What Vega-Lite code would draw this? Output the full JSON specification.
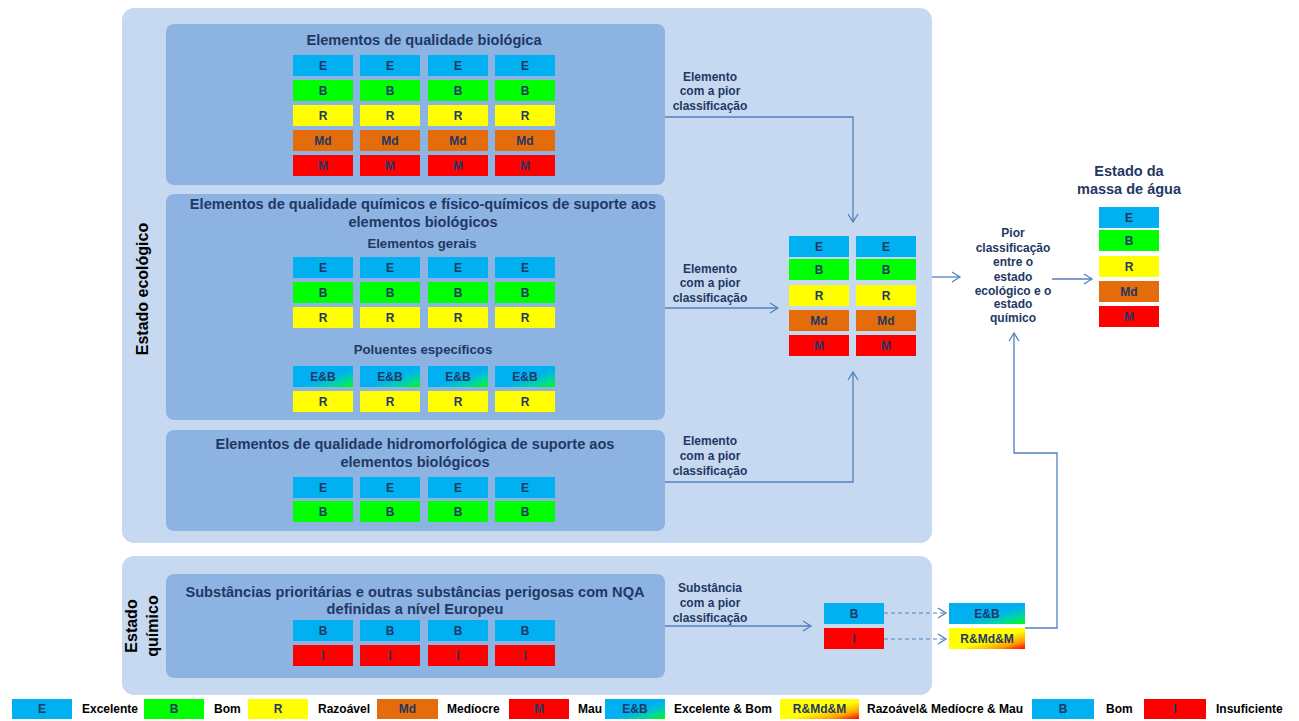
{
"$schema": "https://vega.github.io/schema/vega-lite/v6.json",
"width": 1299, "height": 721, "autosize": {"type": "none"}, "padding": 0, "background": "white",
"config": {"view": {"stroke": null}, "text": {"font": "Liberation Sans", "fontWeight": "bold"}},
"datasets": {
"outer": [{"x":122,"x2":932,"y":8,"y2":543},{"x":122,"x2":932,"y":556,"y2":695}],
"inner": [{"x":166,"x2":665,"y":24,"y2":185},{"x":166,"x2":665,"y":194,"y2":420},{"x":166,"x2":665,"y":430,"y2":531},{"x":166,"x2":665,"y":574,"y2":678}],
"cells": [
{"x":293,"x2":353,"y":55,"y2":76,"c":"E","t":"E"},{"x":360,"x2":420,"y":55,"y2":76,"c":"E","t":"E"},{"x":428,"x2":488,"y":55,"y2":76,"c":"E","t":"E"},{"x":495,"x2":555,"y":55,"y2":76,"c":"E","t":"E"},
{"x":293,"x2":353,"y":80,"y2":101,"c":"B","t":"B"},{"x":360,"x2":420,"y":80,"y2":101,"c":"B","t":"B"},{"x":428,"x2":488,"y":80,"y2":101,"c":"B","t":"B"},{"x":495,"x2":555,"y":80,"y2":101,"c":"B","t":"B"},
{"x":293,"x2":353,"y":105,"y2":126,"c":"R","t":"R"},{"x":360,"x2":420,"y":105,"y2":126,"c":"R","t":"R"},{"x":428,"x2":488,"y":105,"y2":126,"c":"R","t":"R"},{"x":495,"x2":555,"y":105,"y2":126,"c":"R","t":"R"},
{"x":293,"x2":353,"y":130,"y2":151,"c":"Md","t":"Md"},{"x":360,"x2":420,"y":130,"y2":151,"c":"Md","t":"Md"},{"x":428,"x2":488,"y":130,"y2":151,"c":"Md","t":"Md"},{"x":495,"x2":555,"y":130,"y2":151,"c":"Md","t":"Md"},
{"x":293,"x2":353,"y":155,"y2":176,"c":"M","t":"M"},{"x":360,"x2":420,"y":155,"y2":176,"c":"M","t":"M"},{"x":428,"x2":488,"y":155,"y2":176,"c":"M","t":"M"},{"x":495,"x2":555,"y":155,"y2":176,"c":"M","t":"M"},
{"x":293,"x2":353,"y":257,"y2":278,"c":"E","t":"E"},{"x":360,"x2":420,"y":257,"y2":278,"c":"E","t":"E"},{"x":428,"x2":488,"y":257,"y2":278,"c":"E","t":"E"},{"x":495,"x2":555,"y":257,"y2":278,"c":"E","t":"E"},
{"x":293,"x2":353,"y":282,"y2":303,"c":"B","t":"B"},{"x":360,"x2":420,"y":282,"y2":303,"c":"B","t":"B"},{"x":428,"x2":488,"y":282,"y2":303,"c":"B","t":"B"},{"x":495,"x2":555,"y":282,"y2":303,"c":"B","t":"B"},
{"x":293,"x2":353,"y":307,"y2":328,"c":"R","t":"R"},{"x":360,"x2":420,"y":307,"y2":328,"c":"R","t":"R"},{"x":428,"x2":488,"y":307,"y2":328,"c":"R","t":"R"},{"x":495,"x2":555,"y":307,"y2":328,"c":"R","t":"R"},
{"x":293,"x2":353,"y":366,"y2":387,"c":"EB","t":"E&B"},{"x":360,"x2":420,"y":366,"y2":387,"c":"EB","t":"E&B"},{"x":428,"x2":488,"y":366,"y2":387,"c":"EB","t":"E&B"},{"x":495,"x2":555,"y":366,"y2":387,"c":"EB","t":"E&B"},
{"x":293,"x2":353,"y":391,"y2":412,"c":"R","t":"R"},{"x":360,"x2":420,"y":391,"y2":412,"c":"R","t":"R"},{"x":428,"x2":488,"y":391,"y2":412,"c":"R","t":"R"},{"x":495,"x2":555,"y":391,"y2":412,"c":"R","t":"R"},
{"x":293,"x2":353,"y":477,"y2":498,"c":"E","t":"E"},{"x":360,"x2":420,"y":477,"y2":498,"c":"E","t":"E"},{"x":428,"x2":488,"y":477,"y2":498,"c":"E","t":"E"},{"x":495,"x2":555,"y":477,"y2":498,"c":"E","t":"E"},
{"x":293,"x2":353,"y":501,"y2":522,"c":"B","t":"B"},{"x":360,"x2":420,"y":501,"y2":522,"c":"B","t":"B"},{"x":428,"x2":488,"y":501,"y2":522,"c":"B","t":"B"},{"x":495,"x2":555,"y":501,"y2":522,"c":"B","t":"B"},
{"x":293,"x2":353,"y":620,"y2":641,"c":"Bq","t":"B"},{"x":360,"x2":420,"y":620,"y2":641,"c":"Bq","t":"B"},{"x":428,"x2":488,"y":620,"y2":641,"c":"Bq","t":"B"},{"x":495,"x2":555,"y":620,"y2":641,"c":"Bq","t":"B"},
{"x":293,"x2":353,"y":645,"y2":666,"c":"I","t":"I"},{"x":360,"x2":420,"y":645,"y2":666,"c":"I","t":"I"},{"x":428,"x2":488,"y":645,"y2":666,"c":"I","t":"I"},{"x":495,"x2":555,"y":645,"y2":666,"c":"I","t":"I"},
{"x":789,"x2":849,"y":236,"y2":257,"c":"E","t":"E"},{"x":856,"x2":916,"y":236,"y2":257,"c":"E","t":"E"},
{"x":789,"x2":849,"y":259,"y2":280,"c":"B","t":"B"},{"x":856,"x2":916,"y":259,"y2":280,"c":"B","t":"B"},
{"x":789,"x2":849,"y":285,"y2":306,"c":"R","t":"R"},{"x":856,"x2":916,"y":285,"y2":306,"c":"R","t":"R"},
{"x":789,"x2":849,"y":310,"y2":331,"c":"Md","t":"Md"},{"x":856,"x2":916,"y":310,"y2":331,"c":"Md","t":"Md"},
{"x":789,"x2":849,"y":335,"y2":356,"c":"M","t":"M"},{"x":856,"x2":916,"y":335,"y2":356,"c":"M","t":"M"},
{"x":1099,"x2":1159,"y":207,"y2":228,"c":"E","t":"E"},{"x":1099,"x2":1159,"y":230,"y2":251,"c":"B","t":"B"},{"x":1099,"x2":1159,"y":256,"y2":277,"c":"R","t":"R"},{"x":1099,"x2":1159,"y":281,"y2":302,"c":"Md","t":"Md"},{"x":1099,"x2":1159,"y":306,"y2":327,"c":"M","t":"M"},
{"x":824,"x2":884,"y":603,"y2":624,"c":"Bq","t":"B"},{"x":824,"x2":884,"y":628,"y2":649,"c":"I","t":"I"},
{"x":949,"x2":1025,"y":603,"y2":624,"c":"EB","t":"E&B"},{"x":949,"x2":1025,"y":628,"y2":649,"c":"RMM","t":"R&Md&M"},
{"x":12,"x2":72,"y":699,"y2":719,"c":"E","t":"E"},{"x":144,"x2":204,"y":699,"y2":719,"c":"B","t":"B"},{"x":248,"x2":308,"y":699,"y2":719,"c":"R","t":"R"},{"x":377,"x2":438,"y":699,"y2":719,"c":"Md","t":"Md"},{"x":509,"x2":569,"y":699,"y2":719,"c":"M","t":"M"},{"x":605,"x2":665,"y":699,"y2":719,"c":"EB","t":"E&B"},{"x":780,"x2":859,"y":699,"y2":719,"c":"RMM","t":"R&Md&M"},{"x":1032,"x2":1094,"y":699,"y2":719,"c":"Bq","t":"B"},{"x":1144,"x2":1206,"y":699,"y2":719,"c":"I","t":"I"}
],
"lines": [
{"id":1,"o":1,"x":665,"y":117},{"id":1,"o":2,"x":853,"y":117},{"id":1,"o":3,"x":853,"y":221},
{"id":2,"o":1,"x":665,"y":308},{"id":2,"o":2,"x":777,"y":308},
{"id":3,"o":1,"x":665,"y":482},{"id":3,"o":2,"x":853,"y":482},{"id":3,"o":3,"x":853,"y":373},
{"id":4,"o":1,"x":932,"y":277},{"id":4,"o":2,"x":959,"y":277},
{"id":5,"o":1,"x":1052,"y":279},{"id":5,"o":2,"x":1091,"y":279},
{"id":6,"o":1,"x":1025,"y":628},{"id":6,"o":2,"x":1057,"y":628},{"id":6,"o":3,"x":1057,"y":453},{"id":6,"o":4,"x":1014,"y":453},{"id":6,"o":5,"x":1014,"y":334},
{"id":7,"o":1,"x":665,"y":626},{"id":7,"o":2,"x":810,"y":626}
],
"dashlines": [
{"id":1,"o":1,"x":884,"y":613},{"id":1,"o":2,"x":945,"y":613},
{"id":2,"o":1,"x":884,"y":639},{"id":2,"o":2,"x":945,"y":639}
],
"heads": [
{"x":853,"y":222,"a":90},{"x":778,"y":308,"a":0},{"x":853,"y":372,"a":270},{"x":960,"y":277,"a":0},{"x":1092,"y":279,"a":0},{"x":1014,"y":333,"a":270},{"x":811,"y":626,"a":0},{"x":946,"y":613,"a":0},{"x":946,"y":639,"a":0}
],
"titles": [
{"x":424,"y":41,"t":"Elementos de qualidade biológica"},
{"x":423,"y":205,"t":"Elementos de qualidade químicos e físico-químicos de suporte aos"},
{"x":423,"y":223,"t":"elementos biológicos"},
{"x":415,"y":445,"t":"Elementos de qualidade hidromorfológica de suporte aos"},
{"x":415,"y":463,"t":"elementos biológicos"},
{"x":415,"y":593,"t":"Substâncias prioritárias e outras substâncias perigosas com NQA"},
{"x":415,"y":610,"t":"definidas a nível Europeu"}
],
"subtitles": [
{"x":422,"y":244,"t":"Elementos gerais"},
{"x":423,"y":350,"t":"Poluentes específicos"}
],
"notes": [
{"x":710,"y":77,"t":"Elemento"},{"x":710,"y":91,"t":"com a pior"},{"x":710,"y":106,"t":"classificação"},
{"x":710,"y":269,"t":"Elemento"},{"x":710,"y":283,"t":"com a pior"},{"x":710,"y":298,"t":"classificação"},
{"x":710,"y":441,"t":"Elemento"},{"x":710,"y":456,"t":"com a pior"},{"x":710,"y":471,"t":"classificação"},
{"x":710,"y":588,"t":"Substância"},{"x":710,"y":603,"t":"com a pior"},{"x":710,"y":618,"t":"classificação"},
{"x":1013,"y":233,"t":"Pior"},{"x":1013,"y":248,"t":"classificação"},{"x":1013,"y":262,"t":"entre o"},{"x":1013,"y":277,"t":"estado"},{"x":1013,"y":291,"t":"ecológico e o"},{"x":1013,"y":304,"t":"estado"},{"x":1013,"y":318,"t":"químico"}
],
"heading": [{"x":1129,"y":172,"t":"Estado da"},{"x":1129,"y":190,"t":"massa de água"}],
"vertical": [{"x":143,"y":289,"t":"Estado ecológico"},{"x":132,"y":626,"t":"Estado"},{"x":153,"y":626,"t":"químico"}],
"legendtext": [
{"x":82,"y":709,"t":"Excelente"},{"x":214,"y":709,"t":"Bom"},{"x":318,"y":709,"t":"Razoável"},{"x":447,"y":709,"t":"Medíocre"},{"x":578,"y":709,"t":"Mau"},{"x":674,"y":709,"t":"Excelente & Bom"},{"x":867,"y":709,"t":"Razoável& Medíocre & Mau"},{"x":1106,"y":709,"t":"Bom"},{"x":1216,"y":709,"t":"Insuficiente"}
]
},
"encoding": {
"x": {"field": "x", "type": "quantitative", "scale": {"domain": [0, 1299], "nice": false, "zero": false}, "axis": null},
"y": {"field": "y", "type": "quantitative", "scale": {"domain": [0, 721], "nice": false, "zero": false, "reverse": true}, "axis": null}
},
"layer": [
{"data": {"name": "outer"}, "mark": {"type": "rect", "fill": "#C6D9F1", "cornerRadius": 12}, "encoding": {"x2": {"field": "x2"}, "y2": {"field": "y2"}}},
{"data": {"name": "inner"}, "mark": {"type": "rect", "fill": "#8DB3E2", "cornerRadius": 8}, "encoding": {"x2": {"field": "x2"}, "y2": {"field": "y2"}}},
{"data": {"name": "cells"}, "transform": [{"filter": "datum.c != 'EB' && datum.c != 'RMM'"}], "mark": {"type": "rect"},
 "encoding": {"x2": {"field": "x2"}, "y2": {"field": "y2"}, "color": {"field": "c", "type": "nominal", "legend": null, "scale": {"domain": ["E","B","R","Md","M","Bq","I"], "range": ["#00B0F0","#00FF00","#FFFF00","#E46C0A","#FF0000","#00B0F0","#FF0000"]}}}},
{"data": {"name": "cells"}, "transform": [{"filter": "datum.c == 'EB'"}], "mark": {"type": "rect", "fill": {"gradient": "linear", "x1": 0, "y1": 0, "x2": 1, "y2": 1, "stops": [{"offset": 0, "color": "#00B0F0"}, {"offset": 0.55, "color": "#00B0F0"}, {"offset": 0.8, "color": "#00D8A0"}, {"offset": 1, "color": "#00FF00"}]}},
 "encoding": {"x2": {"field": "x2"}, "y2": {"field": "y2"}}},
{"data": {"name": "cells"}, "transform": [{"filter": "datum.c == 'RMM'"}], "mark": {"type": "rect", "fill": {"gradient": "linear", "x1": 0, "y1": 0, "x2": 1, "y2": 1, "stops": [{"offset": 0, "color": "#FFFF00"}, {"offset": 0.55, "color": "#FFFF00"}, {"offset": 0.8, "color": "#FFA000"}, {"offset": 1, "color": "#FF0000"}]}},
 "encoding": {"x2": {"field": "x2"}, "y2": {"field": "y2"}}},
{"data": {"name": "cells"}, "transform": [{"calculate": "(datum.x + datum.x2) / 2", "as": "cx"}, {"calculate": "(datum.y + datum.y2) / 2", "as": "cy"}],
 "mark": {"type": "text", "fontSize": 12, "fill": "#1F3864", "align": "center", "baseline": "middle"},
 "encoding": {"x": {"field": "cx", "type": "quantitative"}, "y": {"field": "cy", "type": "quantitative"}, "text": {"field": "t"}}},
{"data": {"name": "lines"}, "mark": {"type": "line", "stroke": "#4F81BD", "strokeWidth": 1.3}, "encoding": {"detail": {"field": "id"}, "order": {"field": "o"}}},
{"data": {"name": "dashlines"}, "mark": {"type": "line", "stroke": "#4F81BD", "strokeWidth": 1.2, "strokeDash": [4, 3]}, "encoding": {"detail": {"field": "id"}, "order": {"field": "o"}}},
{"data": {"name": "heads"}, "mark": {"type": "point", "shape": "M -1.6 -1 L 0 0 L -1.6 1", "filled": false, "stroke": "#4F81BD", "strokeWidth": 1.3, "size": 100, "opacity": 1}, "encoding": {"angle": {"field": "a", "type": "quantitative", "scale": null}}},
{"data": {"name": "titles"}, "mark": {"type": "text", "fontSize": 14.6, "fill": "#1F3864", "align": "center", "baseline": "middle"}, "encoding": {"text": {"field": "t"}}},
{"data": {"name": "subtitles"}, "mark": {"type": "text", "fontSize": 13.2, "fill": "#1F3864", "align": "center", "baseline": "middle"}, "encoding": {"text": {"field": "t"}}},
{"data": {"name": "notes"}, "mark": {"type": "text", "fontSize": 12, "fill": "#1F3864", "align": "center", "baseline": "middle"}, "encoding": {"text": {"field": "t"}}},
{"data": {"name": "heading"}, "mark": {"type": "text", "fontSize": 14.5, "fill": "#1F3864", "align": "center", "baseline": "middle"}, "encoding": {"text": {"field": "t"}}},
{"data": {"name": "vertical"}, "mark": {"type": "text", "fontSize": 16, "fill": "#000000", "align": "center", "baseline": "middle", "angle": 270}, "encoding": {"text": {"field": "t"}}},
{"data": {"name": "legendtext"}, "mark": {"type": "text", "fontSize": 12, "fill": "#000000", "align": "left", "baseline": "middle"}, "encoding": {"text": {"field": "t"}}}
]
}
